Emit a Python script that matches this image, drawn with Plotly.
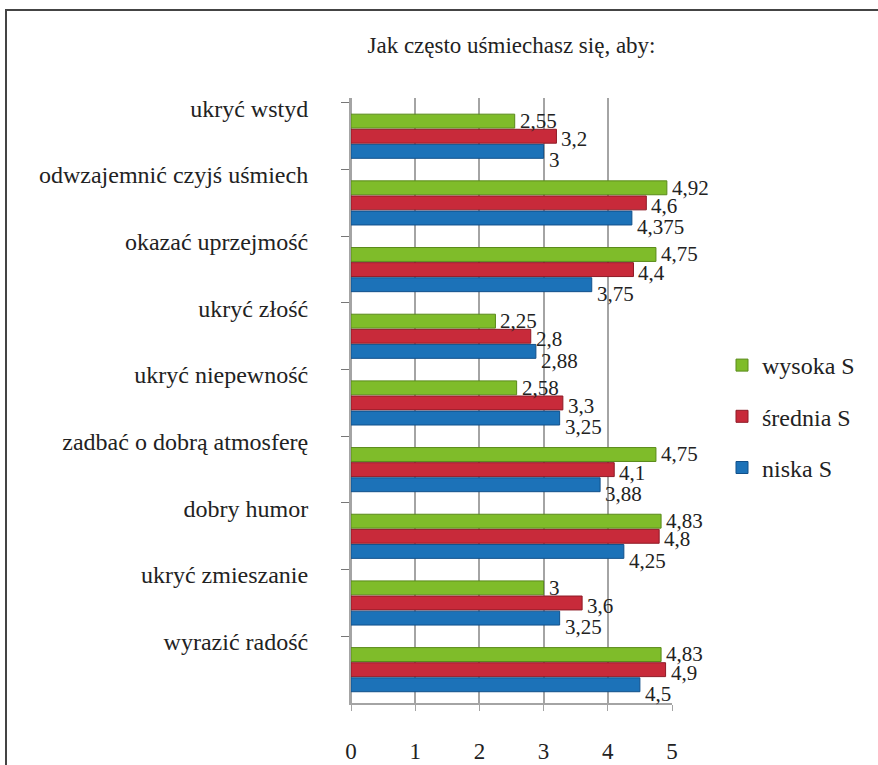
import plotly.graph_objects as go

# Survey answers: how often do you smile in order to...
categories = [
    "ukryć wstyd",
    "odwzajemnić czyjś uśmiech",
    "okazać uprzejmość",
    "ukryć złość",
    "ukryć niepewność",
    "zadbać o dobrą atmosferę",
    "dobry humor",
    "ukryć zmieszanie",
    "wyrazić radość",
]

wysoka = [2.55, 4.92, 4.75, 2.25, 2.58, 4.75, 4.83, 3, 4.83]
srednia = [3.2, 4.6, 4.4, 2.8, 3.3, 4.1, 4.8, 3.6, 4.9]
niska = [3, 4.375, 3.75, 2.88, 3.25, 3.88, 4.25, 3.25, 4.5]

series_names = ["wysoka S", "średnia S", "niska S"]
x_ticks = [0, 1, 2, 3, 4, 5]

colors = ["#7fbc2a", "#c82a3a", "#1c72b8"]
edge_colors = ["#5a8a1a", "#8e1a26", "#11508a"]

FONT = "'Liberation Serif', serif"

W, H = 878, 765
L, R, T, B = 351, 206, 98, 62  # plot-area margins in px
BARGAP = 0.32

pw, ph = W - L - R, H - T - B


def px_x(px):
    return (px - L) / pw


def px_y(py):
    return 1 - (py - T) / ph


def fmt(v):
    return f"{v:g}".replace(".", ",")


fig = go.Figure()
all_series = [wysoka, srednia, niska]
for i, (name, vals) in enumerate(zip(series_names, all_series)):
    fig.add_trace(go.Bar(
        y=categories,
        x=vals,
        orientation="h",
        name=name,
        legendgroup=name,
        marker=dict(color=colors[i], line=dict(color=edge_colors[i], width=1)),
        cliponaxis=False,
    ))

# value labels: placed at each bar's end, fanned slightly downward
slot = ph / len(categories) * (1 - BARGAP) / len(all_series)
label_drop = [0, 3, 9]
annotations = []
for i, vals in enumerate(all_series):
    centre_offset = (i - (len(all_series) - 1) / 2) * slot
    for cat, v in zip(categories, vals):
        annotations.append(dict(
            x=v, y=cat, xref="x", yref="y", text=fmt(v), showarrow=False,
            xanchor="left", yanchor="middle", xshift=3,
            yshift=-(centre_offset + label_drop[i]),
            font=dict(family=FONT, size=21, color="#222222"),
        ))

# outer frame around the whole chart
fig.add_shape(type="rect", xref="paper", yref="paper",
              x0=px_x(6), x1=px_x(W + 40), y0=px_y(H + 40), y1=px_y(10),
              line=dict(color="#444444", width=2), layer="below")

fig.update_layout(
    width=W, height=H,
    margin=dict(l=L, r=R, t=T, b=B, autoexpand=False),
    paper_bgcolor="white",
    plot_bgcolor="white",
    barmode="group",
    bargap=BARGAP,
    bargroupgap=0.08,
    font=dict(family=FONT, color="#222222"),
    annotations=annotations,
    title=dict(text="Jak często uśmiechasz się, aby:", x=0.5, xref="paper",
               xanchor="center", y=1 - 45 / H, yanchor="middle",
               font=dict(family=FONT, size=23, color="#222222")),
    legend=dict(x=px_x(722), xanchor="left", y=px_y(343), yanchor="top",
                font=dict(family=FONT, size=24, color="#222222"),
                traceorder="grouped", tracegroupgap=17,
                bgcolor="rgba(0,0,0,0)"),
    showlegend=True,
)

fig.update_xaxes(
    range=[0, 5], tickvals=x_ticks, ticktext=[str(t) for t in x_ticks],
    showgrid=True, gridcolor="#a4a4a4", gridwidth=2,
    zeroline=True, zerolinecolor="#a4a4a4", zerolinewidth=2,
    showline=True, linecolor="#a4a4a4", linewidth=2,
    ticks="outside", tickcolor="#a4a4a4", ticklen=6,
    ticklabelstandoff=20, automargin=False,
    tickfont=dict(family=FONT, size=23, color="#222222"),
)
fig.update_yaxes(
    autorange="reversed", type="category",
    showline=True, linecolor="#a4a4a4", linewidth=2,
    ticks="outside", tickson="boundaries", tickcolor="#777777", ticklen=8,
    ticklabelshift=28, automargin=False,
    ticklabelstandoff=36,
    tickfont=dict(family=FONT, size=24, color="#222222"),
    showgrid=False,
)

fig.write_html("out.html")
